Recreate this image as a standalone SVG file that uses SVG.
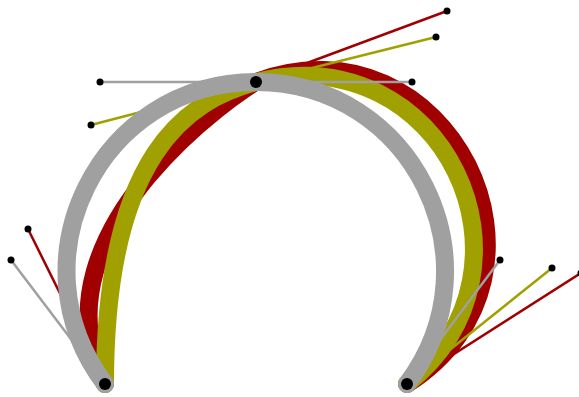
<svg xmlns="http://www.w3.org/2000/svg" width="579" height="397" viewBox="0 0 579 397">
<style>
.curve{fill:none;stroke-width:18;stroke-linecap:round}
.h{fill:none;stroke-width:2.5}
.r{stroke:#a00000}
.o{stroke:#a0a000}
.g{stroke:#a0a0a0}
.hd{fill:#000}
</style>
<rect width="579" height="397" fill="#fff"/>
<g id="connectors">
<g id="red-curve">
<path class="h r" d="M28,229 L105,384 M447,11 L256,82 M581,273 L407,384"/>
<circle class="hd" cx="28" cy="229" r="3.5"/>
<circle class="hd" cx="447" cy="11" r="3.5"/>
<circle class="hd" cx="581" cy="273" r="3.5"/>
<path class="curve r" d="M105,384 C28,229 246,86 256,82 C447,11 579,274 407,384"/>
</g>
<g id="olive-curve">
<path class="h o" d="M91,125 L256,82 L436,37 M552,268 L407,384"/>
<circle class="hd" cx="91" cy="125" r="3.5"/>
<circle class="hd" cx="436" cy="37" r="3.5"/>
<circle class="hd" cx="552" cy="268" r="3.5"/>
<path class="curve o" d="M105,384 C105,154 188,100 256,82 C443,35.5 552,268 407,384"/>
</g>
<g id="gray-curve">
<path class="h g" d="M11,260 L105,384 M100,82 L412,82 M500,260 L407,384"/>
<circle class="hd" cx="11" cy="260" r="3.5"/>
<circle class="hd" cx="100" cy="82" r="3.5"/>
<circle class="hd" cx="412" cy="82" r="3.5"/>
<circle class="hd" cx="500" cy="260" r="3.5"/>
<path class="curve g" d="M105,384 C11,260 100,82 256,82 C412,82 500,260 407,384"/>
</g>
</g>
<g id="node-start"><circle class="hd" cx="105" cy="384" r="6"/></g>
<g id="node-mid"><circle class="hd" cx="256" cy="82" r="6"/></g>
<g id="node-end"><circle class="hd" cx="407" cy="384" r="6"/></g>
</svg>
